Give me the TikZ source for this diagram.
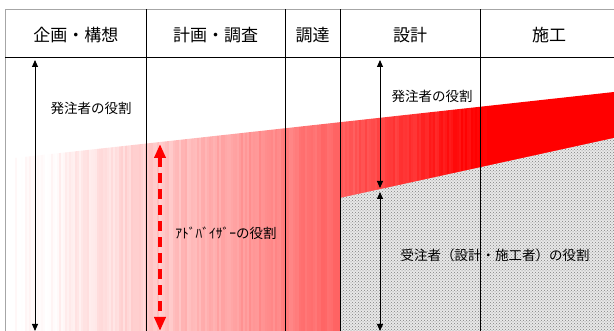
\documentclass[tikz,border=0pt]{standalone}
\usepackage{fontspec}
\newfontfamily\jp{Noto Sans CJK JP}
\usetikzlibrary{arrows.meta,patterns}
\begin{document}
\begin{tikzpicture}[x=1pt,y=-1pt,
  hdr/.style={font=\jp\fontsize{17}{20}\selectfont, inner sep=0pt},
  lbl/.style={font=\jp\fontsize{13.5}{16}\selectfont, inner sep=0pt},
  divline/.style={black, line width=0.8pt},
  dimarrow/.style={black, line width=0.9pt, {Triangle[width=6pt,length=7pt]}-{Triangle[width=6pt,length=7pt]}},
  advarrow/.style={red, line width=3.5pt, dash pattern=on 10pt off 6pt, {Triangle[width=11pt,length=14pt]}-{Triangle[width=11pt,length=14pt]}}]
\useasboundingbox (0,0) rectangle (614,331);
\fill[white] (0,0) rectangle (614,331);
% red gradient stripes
\begin{scope}
\clip (15,158) -- (614,92) -- (614,331) -- (15,331) -- cycle;
\pgfmathsetseed{7}
\foreach \x in {15,17,...,613}{
  \pgfmathsetmacro\p{max(0,min(100,100*pow(max(\x+1-15,0.5)/465,1.3)+8*(rnd-0.5)))}
  \fill[red!\p!white] (\x,80) rectangle (\x+2.3,331);
}
\end{scope}
% contractor region
\fill[white!82!gray] (340,198) -- (614,138) -- (614,331) -- (340,331) -- cycle;
\fill[pattern=crosshatch dots, pattern color=gray] (340,198) -- (614,138) -- (614,331) -- (340,331) -- cycle;
% frame
\draw[gray!70, line width=1pt] (5,9.5) -- (614,9.5);
\draw[gray!70, line width=1.2pt] (5.5,9.5) -- (5.5,331);
\draw[divline] (5,57) -- (614,57);
\foreach \x in {146,285,340,480} \draw[divline] (\x,9.5) -- (\x,331);
% header texts
\node[hdr] (h1) at (76,35) {企画・構想};
\node[hdr] (h2) at (215.5,35) {計画・調査};
\node[hdr] (h3) at (312.5,35) {調達};
\node[hdr] (h4) at (410,35) {設計};
\node[hdr] (h5) at (549,35) {施工};
% arrows
\coordinate (a1t) at (35,60);
\coordinate (a1b) at (35,331);
\draw[dimarrow] (a1t) -- (a1b);
\coordinate (a2t) at (380,60);
\coordinate (a2b) at (380,188);
\draw[dimarrow] (a2t) -- (a2b);
\coordinate (a3t) at (380,192);
\coordinate (a3b) at (380,331);
\draw[dimarrow] (a3t) -- (a3b);
\coordinate (r1t) at (160,144);
\coordinate (r1b) at (160,331);
\draw[advarrow] (r1t) -- (r1b);
% labels
\node[lbl] (o1) at (91,108) {発注者の役割};
\node[lbl] (o2) at (432,96) {発注者の役割};
\node[lbl] (adv) at (226,233) {ｱﾄﾞﾊﾞｲｻﾞｰの役割};
\node[lbl] (con) at (495,255) {受注者（設計・施工者）の役割};
\end{tikzpicture}
\end{document}
